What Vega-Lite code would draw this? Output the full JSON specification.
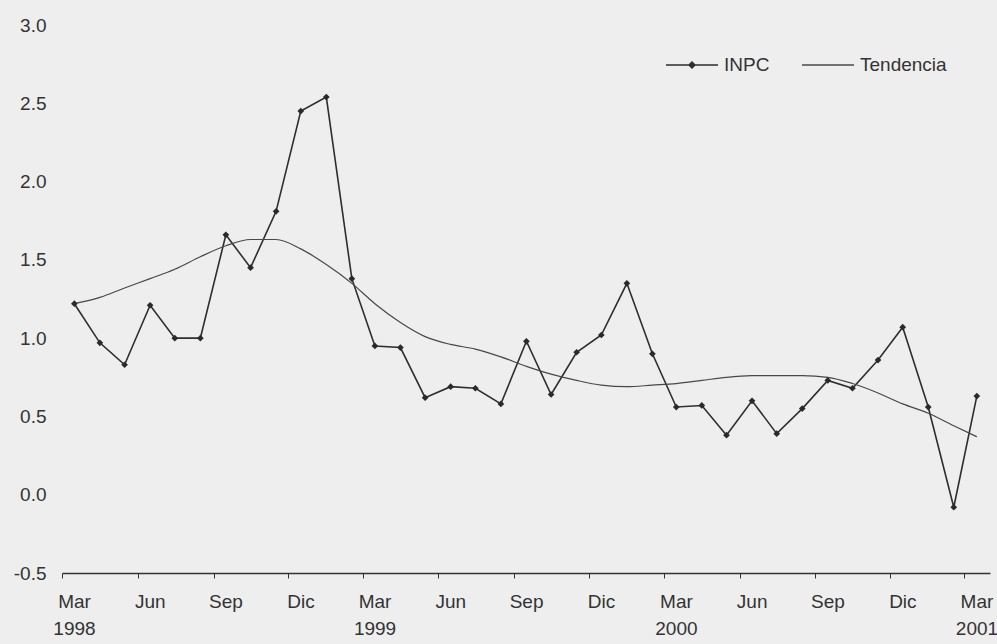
{
  "$schema": "https://vega.github.io/schema/vega-lite/v6.json",
  "width": 928,
  "height": 548,
  "autosize": "none",
  "padding": {"left": 62, "top": 25, "right": 7, "bottom": 71},
  "background": "#eeeeee",
  "config": {
    "view": {"stroke": null},
    "font": "Liberation Sans",
    "axis": {"labelFont": "Liberation Sans", "labelFontSize": 19, "labelColor": "#333333", "title": null, "grid": false}
  },
  "data": {
    "values": [
      {"fecha": "1998-03-16", "INPC": 1.22, "Tendencia": 1.22},
      {"fecha": "1998-04-16", "INPC": 0.97, "Tendencia": 1.26},
      {"fecha": "1998-05-16", "INPC": 0.83, "Tendencia": 1.32},
      {"fecha": "1998-06-16", "INPC": 1.21, "Tendencia": 1.38},
      {"fecha": "1998-07-16", "INPC": 1.0, "Tendencia": 1.44},
      {"fecha": "1998-08-16", "INPC": 1.0, "Tendencia": 1.52},
      {"fecha": "1998-09-16", "INPC": 1.66, "Tendencia": 1.59},
      {"fecha": "1998-10-16", "INPC": 1.45, "Tendencia": 1.63},
      {"fecha": "1998-11-16", "INPC": 1.81, "Tendencia": 1.63},
      {"fecha": "1998-12-16", "INPC": 2.45, "Tendencia": 1.57},
      {"fecha": "1999-01-16", "INPC": 2.54, "Tendencia": 1.47},
      {"fecha": "1999-02-16", "INPC": 1.38, "Tendencia": 1.35},
      {"fecha": "1999-03-16", "INPC": 0.95, "Tendencia": 1.22},
      {"fecha": "1999-04-16", "INPC": 0.94, "Tendencia": 1.1},
      {"fecha": "1999-05-16", "INPC": 0.62, "Tendencia": 1.01},
      {"fecha": "1999-06-16", "INPC": 0.69, "Tendencia": 0.96},
      {"fecha": "1999-07-16", "INPC": 0.68, "Tendencia": 0.93},
      {"fecha": "1999-08-16", "INPC": 0.58, "Tendencia": 0.88},
      {"fecha": "1999-09-16", "INPC": 0.98, "Tendencia": 0.82},
      {"fecha": "1999-10-16", "INPC": 0.64, "Tendencia": 0.77},
      {"fecha": "1999-11-16", "INPC": 0.91, "Tendencia": 0.73},
      {"fecha": "1999-12-16", "INPC": 1.02, "Tendencia": 0.7},
      {"fecha": "2000-01-16", "INPC": 1.35, "Tendencia": 0.69},
      {"fecha": "2000-02-16", "INPC": 0.9, "Tendencia": 0.7},
      {"fecha": "2000-03-16", "INPC": 0.56, "Tendencia": 0.71},
      {"fecha": "2000-04-16", "INPC": 0.57, "Tendencia": 0.73},
      {"fecha": "2000-05-16", "INPC": 0.38, "Tendencia": 0.75},
      {"fecha": "2000-06-16", "INPC": 0.6, "Tendencia": 0.76},
      {"fecha": "2000-07-16", "INPC": 0.39, "Tendencia": 0.76},
      {"fecha": "2000-08-16", "INPC": 0.55, "Tendencia": 0.76},
      {"fecha": "2000-09-16", "INPC": 0.73, "Tendencia": 0.75},
      {"fecha": "2000-10-16", "INPC": 0.68, "Tendencia": 0.71},
      {"fecha": "2000-11-16", "INPC": 0.86, "Tendencia": 0.65},
      {"fecha": "2000-12-16", "INPC": 1.07, "Tendencia": 0.58},
      {"fecha": "2001-01-16", "INPC": 0.56, "Tendencia": 0.52},
      {"fecha": "2001-02-16", "INPC": -0.08, "Tendencia": 0.44},
      {"fecha": "2001-03-16", "INPC": 0.63, "Tendencia": 0.37}
    ]
  },
  "encoding": {
    "x": {
      "field": "fecha",
      "type": "temporal",
      "scale": {
        "type": "utc",
        "domain": [
          {"year": 1998, "month": 3, "date": 1, "utc": true},
          {"year": 2001, "month": 4, "date": 1, "utc": true}
        ],
        "nice": false
      },
      "axis": {
        "values": [
          {"year": 1998, "month": 3, "date": 1, "utc": true},
          {"year": 1998, "month": 6, "date": 1, "utc": true},
          {"year": 1998, "month": 9, "date": 1, "utc": true},
          {"year": 1998, "month": 12, "date": 1, "utc": true},
          {"year": 1999, "month": 3, "date": 1, "utc": true},
          {"year": 1999, "month": 6, "date": 1, "utc": true},
          {"year": 1999, "month": 9, "date": 1, "utc": true},
          {"year": 1999, "month": 12, "date": 1, "utc": true},
          {"year": 2000, "month": 3, "date": 1, "utc": true},
          {"year": 2000, "month": 6, "date": 1, "utc": true},
          {"year": 2000, "month": 9, "date": 1, "utc": true},
          {"year": 2000, "month": 12, "date": 1, "utc": true},
          {"year": 2001, "month": 3, "date": 1, "utc": true}
        ],
        "labelExpr": "utcmonth(datum.value) == 2 ? ['Mar', '' + utcyear(datum.value)] : utcmonth(datum.value) == 5 ? 'Jun' : utcmonth(datum.value) == 8 ? 'Sep' : 'Dic'",
        "labelOffset": 12,
        "labelOverlap": false,
        "labelBound": false,
        "labelFlush": false,
        "labelPadding": 14,
        "labelLineHeight": 27,
        "domainColor": "#333333",
        "domainWidth": 1.5,
        "tickColor": "#333333",
        "tickSize": 5,
        "tickWidth": 1
      }
    }
  },
  "layer": [
    {
      "mark": {"type": "line", "strokeWidth": 1.6},
      "encoding": {
        "y": {
          "field": "INPC",
          "type": "quantitative",
          "scale": {"domain": [-0.5, 3.0], "nice": false, "zero": false},
          "axis": {
            "values": [-0.5, 0, 0.5, 1, 1.5, 2, 2.5, 3],
            "labelExpr": "replace(format(datum.value, '.1f'), '\u2212', '-')",
            "domain": false,
            "ticks": false,
            "labelPadding": 16
          }
        },
        "color": {
          "datum": "INPC",
          "type": "nominal",
          "scale": {"domain": ["INPC", "Tendencia"], "range": ["#2e2e2e", "#484848"]},
          "legend": {
            "title": null,
            "orient": "none",
            "legendX": 603,
            "legendY": 13,
            "direction": "horizontal",
            "symbolSize": 2704,
            "symbolStrokeWidth": 1.3,
            "labelFont": "Liberation Sans",
            "labelFontSize": 19,
            "labelColor": "#333333",
            "labelOffset": 5,
            "columnPadding": 29,
            "encode": {
              "symbols": {
                "update": {
                  "shape": {"signal": "datum.value === 'INPC' ? 'M-1,0H1M0,-0.12L0.12,0L0,0.12L-0.12,0Z' : 'M-1,0H1'"},
                  "fill": {"value": "#333333"},
                  "stroke": {"value": "#3a3a3a"}
                }
              }
            }
          }
        }
      }
    },
    {
      "mark": {"type": "line", "strokeWidth": 1.2, "interpolate": "monotone"},
      "encoding": {
        "y": {"field": "Tendencia", "type": "quantitative"},
        "color": {"datum": "Tendencia", "type": "nominal"}
      }
    },
    {
      "mark": {"type": "point", "filled": true, "shape": "diamond", "size": 45, "color": "#2a2a2a", "opacity": 1},
      "encoding": {
        "y": {"field": "INPC", "type": "quantitative"}
      }
    }
  ]
}
